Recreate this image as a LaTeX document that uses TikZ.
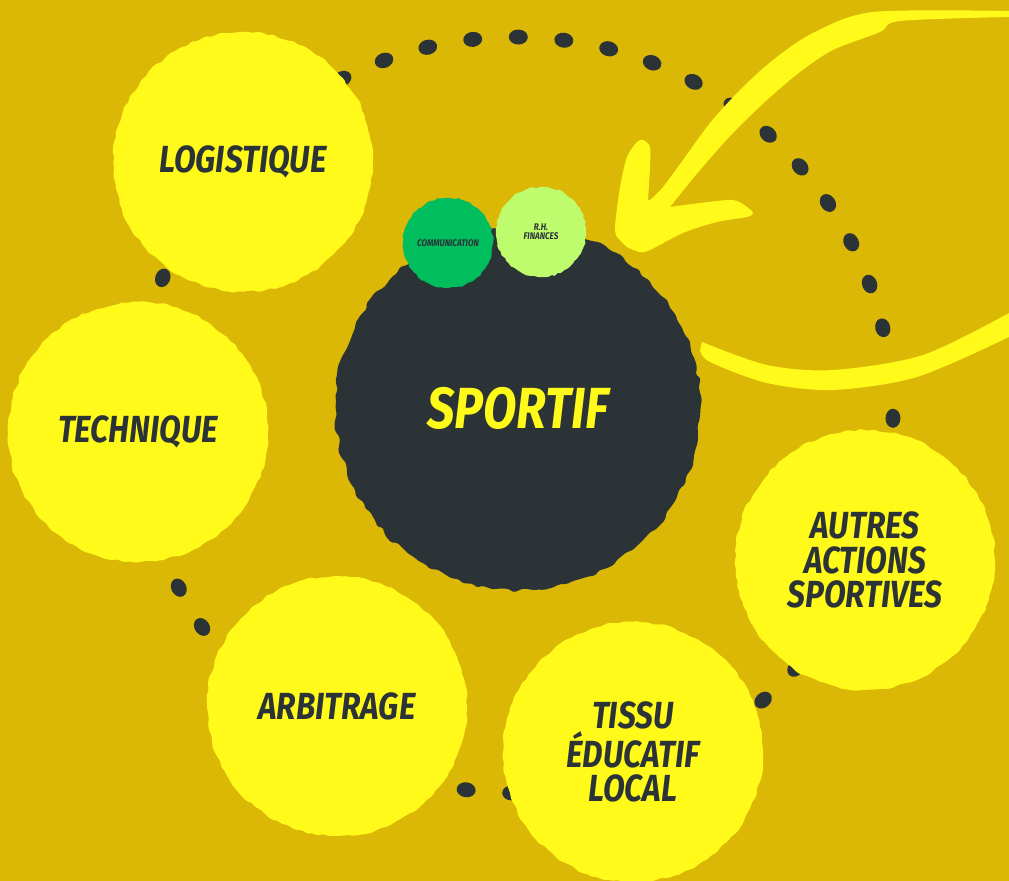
\documentclass[tikz,border=0pt]{standalone}
\usepackage{fontspec}
\newfontfamily\brushfont{Fira Sans}[FakeStretch=0.84]
\usetikzlibrary{decorations.pathmorphing}
\definecolor{mustard}{HTML}{DAB805}
\definecolor{sunyellow}{HTML}{FFFA1A}
\definecolor{slate}{HTML}{2B3337}
\definecolor{commgreen}{HTML}{00BE5E}
\definecolor{limegreen}{HTML}{BEFC6E}
\tikzset{
    pole/.style={circle, fill=sunyellow, minimum size=5.2cm, inner sep=0pt,
        align=center, text=slate,
        font=\brushfont\bfseries\itshape\fontsize{21.5}{19.5}\selectfont,
        decorate, decoration={random steps, segment length=3pt, amplitude=.8pt},
        rounded corners=1pt},
    hub/.style={circle, fill=slate, minimum size=7.3cm, inner sep=0pt,
        text=sunyellow, font=\brushfont\bfseries\itshape\fontsize{33}{33}\selectfont,
        decorate, decoration={random steps, segment length=4pt, amplitude=1.3pt},
        rounded corners=1pt},
    badge/.style={circle, minimum size=1.8cm, inner sep=0pt, align=center,
        text=slate, font=\brushfont\bfseries\itshape\fontsize{5.5}{5}\selectfont,
        decorate, decoration={random steps, segment length=2pt, amplitude=.5pt}},
    ringdot/.style={fill=slate}
}
\begin{document}
\begin{tikzpicture}[x=0.02cm, y=-0.02cm]
    \fill[mustard] (0,0) rectangle (1009,881);
    \useasboundingbox (0,0) rectangle (1009,881);
    % dotted ring behind the poles
    \coordinate (ring) at (515,415);
    \foreach \a in {0,...,51}
        \fill[ringdot, shift={(ring)}, rotate=-90.5+\a*6.923]
            (378,0) ellipse (7.5 and 9.5);
    \node[hub] (sportif) at (518,408) {SPORTIF};
    \node[badge, fill=commgreen] (comm) at (448,243) {COMMUNICATION};
    \node[badge, fill=limegreen] (rhfin) at (541,232) {R.H.\\FINANCES};
    \node[pole] (logistique) at (243,162) {LOGISTIQUE};
    \node[pole] (technique) at (138,432) {TECHNIQUE};
    \node[pole] (arbitrage) at (337,706) {ARBITRAGE};
    \node[pole] (tissu) at (633,752) {TISSU\\ÉDUCATIF\\LOCAL};
    \node[pole] (autres) at (865,560) {AUTRES\\ACTIONS\\SPORTIVES};
    % big yellow arrow
    \fill[sunyellow] (617,237)
        -- plot[smooth] coordinates {(617,237) (615,227) (620,187) (627,157) (637,142) (643,140) (650,147) (650,167) (648,200)}
        -- plot[smooth] coordinates {(650,200) (663,187) (683,160) (710,123) (740,90) (773,60) (813,33) (873,12) (1009,11)}
        -- plot[smooth] coordinates {(1009,17) (900,21) (880,32) (833,50) (800,72) (767,100) (733,133) (700,170) (670,207)}
        -- plot[smooth] coordinates {(670,207) (700,203) (733,200) (747,207) (753,213) (747,217) (717,222) (683,233) (650,250) (640,252) (627,247) (617,237)}
        -- cycle;
    \fill[sunyellow]
        plot[smooth] coordinates {(702,342) (767,365) (833,370) (923,355) (1009,313)}
        -- plot[smooth] coordinates {(1009,337) (917,377) (833,390) (767,383) (710,362) (700,350)}
        -- cycle;
\end{tikzpicture}
\end{document}
